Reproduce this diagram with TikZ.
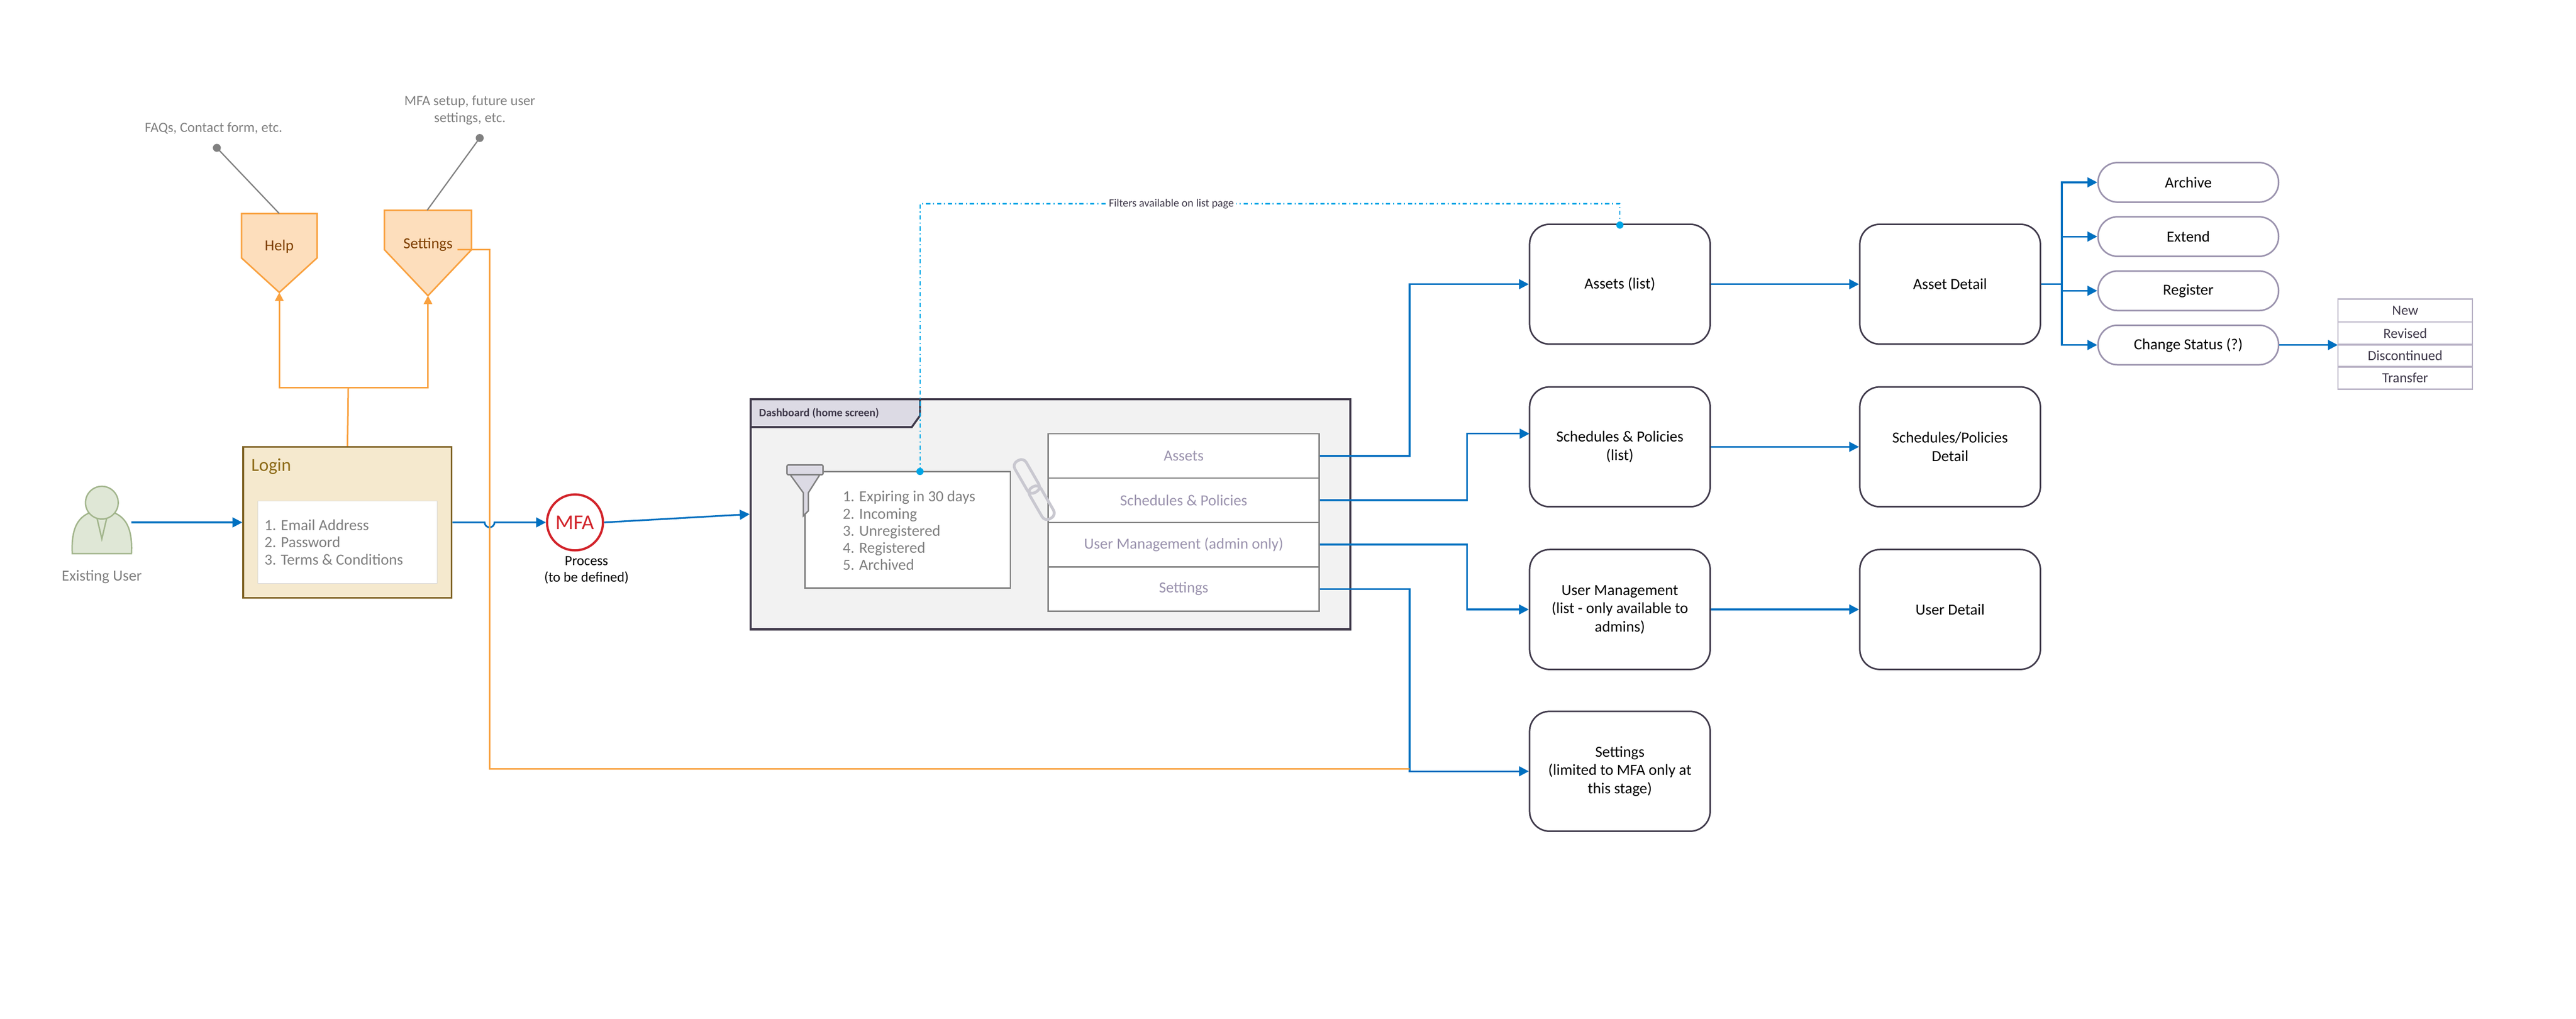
\documentclass[tikz,border=0pt]{standalone}
\usepackage{fontspec}
\setmainfont{Carlito}
\usetikzlibrary{arrows.meta,positioning,backgrounds}
\definecolor{flowblue}{HTML}{0070C0}
\definecolor{helporange}{HTML}{F9A13F}
\definecolor{helpfill}{HTML}{FDDEBC}
\definecolor{helptext}{HTML}{7F4000}
\definecolor{loginfill}{HTML}{F5E9CE}
\definecolor{loginline}{HTML}{7F6325}
\definecolor{logintext}{HTML}{8C6A16}
\definecolor{softgray}{HTML}{7F7F7F}
\definecolor{dashline}{HTML}{403A4B}
\definecolor{tabfill}{HTML}{DCDAE4}
\definecolor{menutext}{HTML}{9B93AE}
\definecolor{pillline}{HTML}{9B93AE}
\definecolor{mfared}{HTML}{D2232A}
\definecolor{userfill}{HTML}{DFE7D6}
\definecolor{userline}{HTML}{A2B58C}
\definecolor{filterblue}{HTML}{00A6E6}

\begin{document}
\begin{tikzpicture}[
        x=0.04113cm, y=-0.04113cm,
        background rectangle/.style={fill=white},
        show background rectangle,
        every node/.style={font=\fontsize{11}{13}\selectfont},
        flow/.style={draw=flowblue, line width=1.2pt, -{Triangle[length=7pt,width=7pt]}},
        orangeflow/.style={draw=helporange, line width=1.1pt},
        screen/.style={draw=dashline, line width=1.1pt, rounded corners=0.5cm,
            minimum width=4.52cm, minimum height=3cm, align=center},
        pill/.style={draw=pillline, line width=1.1pt, rounded corners=0.49cm,
            minimum width=4.52cm, minimum height=0.99cm},
        statuscell/.style={draw=pillline!70, line width=0.9pt, minimum width=3.37cm,
            minimum height=0.57cm, text=dashline, font=\fontsize{10}{12}\selectfont},
        menurow/.style={draw=gray, line width=1pt, fill=white, minimum width=6.79cm,
            minimum height=1.11cm, text=menutext},
        note/.style={text=softgray, align=center, font=\fontsize{10}{12}\selectfont}
    ]
    \useasboundingbox (0,0) rectangle (1568,620);

    % existing user
    \fill[userfill, draw=userline, line width=1pt]
        (44,337) .. controls (43,318) and (50,313) .. (58,311) -- (66,311)
        .. controls (74,313) and (81,318) .. (80,337) -- cycle;
    \draw[userline, line width=1pt] (58,311) -- (62,328) -- (66,311);
    \node[circle, fill=userfill, draw=userline, line width=1pt, minimum size=0.82cm, inner sep=0pt] (userhead) at (62,306) {};
    \coordinate (user) at (80,318);
    \node[text=softgray] (userlabel) at (62,351) {Existing User};

    % login
    \node[draw=loginline, fill=loginfill, line width=1.2pt, minimum width=5.22cm, minimum height=3.78cm] (login) at (211.5,318) {};
    \node[anchor=west, text=logintext, font=\fontsize{13}{15}\selectfont] (logintitle) at (150,284) {Login};
    \node[draw=black!15, fill=white, minimum width=4.48cm, minimum height=2.06cm, inner sep=0pt] (loginlist) at (211.5,330) {};
    \node[anchor=west, text=softgray, align=left, font=\fontsize{11}{12.3}\selectfont] at (158,330)
        {1. Email Address\\2. Password\\3. Terms \& Conditions};

    % help and settings
    \filldraw[fill=helpfill, draw=helporange, line width=1.1pt] (147,130) -- (193,130) -- (193,157) -- (170,178) -- (147,157) -- cycle;
    \node[text=helptext] (help) at (170,150) {Help};
    \coordinate (helptip) at (170,178);
    \filldraw[fill=helpfill, draw=helporange, line width=1.1pt] (234,128) -- (287,128) -- (287,152) -- (260.5,180) -- (234,152) -- cycle;
    \node[text=helptext] (settingsicon) at (260.5,149) {Settings};
    \coordinate (settingstip) at (260.5,180);

    % notes
    \node[note] (helpnote) at (130,78) {FAQs, Contact form, etc.};
    \node[note] (settingsnote) at (286,67) {MFA setup, future user\\settings, etc.};
    \fill[gray] (132,90) circle (0.1cm) coordinate (helpdot);
    \fill[gray] (292,84) circle (0.1cm) coordinate (settingsdot);
    \draw[gray, line width=0.9pt] (helpdot) -- (170,130);
    \draw[gray, line width=0.9pt] (settingsdot) -- (260,128);

    \draw[orangeflow] (login.north) -- (212,236) coordinate (split);
    \draw[orangeflow, -{Triangle[length=6pt,width=6pt]}] (split) -| (helptip);
    \draw[orangeflow, -{Triangle[length=6pt,width=6pt]}] (split) -| (settingstip);

    % mfa
    \node[circle, draw=mfared, line width=1.6pt, minimum size=1.4cm, inner sep=0pt, text=mfared,
        font=\fontsize{15}{15}\selectfont] (mfa) at (350,318) {MFA};
    \node[align=center, font=\fontsize{10}{11.5}\selectfont] (mfalabel) at (357,347) {Process\\(to be defined)};
    \draw[flow] (user) -- (login.west);
    \draw[flow] (login.east) -- (295,318) arc (180:0:3) -- (mfa.west);

    % dashboard
    \node[draw=dashline, fill=black!5, line width=1.6pt, minimum width=15.01cm, minimum height=5.76cm] (dash) at (639.5,313) {};
    \filldraw[fill=tabfill, draw=dashline, line width=1.4pt] (457,243) -- (560,243) -- (560,253) -- (555,260) -- (457,260) -- cycle;
    \node[anchor=west, font=\bfseries\fontsize{8}{9}\selectfont, text=dashline] (dashtab) at (459,251.5) {Dashboard (home screen)};
    \draw[flow] (mfa.east) -- (dash.west);

    \node[draw=gray, fill=white, line width=1pt, minimum width=5.14cm, minimum height=2.92cm] (filters) at (552.5,322.5) {};
    \node[anchor=west, text=softgray, align=left, font=\fontsize{11}{12.2}\selectfont] at (510,323)
        {1. Expiring in 30 days\\2. Incoming\\3. Unregistered\\4. Registered\\5. Archived};
    % funnel
    \filldraw[fill=tabfill, draw=gray, line width=1pt] (481,289) -- (499,289) -- (492,300) -- (492,311) -- (489,314) -- (489,300) -- cycle;
    \filldraw[fill=tabfill, draw=gray, line width=1pt, rounded corners=1pt] (479,283) rectangle (501,289);

    \node[menurow] (massets) at (720.5,277.5) {Assets};
    \node[menurow] (msched) at (720.5,304.5) {Schedules \& Policies};
    \node[menurow] (musers) at (720.5,331.5) {User Management (admin only)};
    \node[menurow] (msettings) at (720.5,358.5) {Settings};
    % chain
    \draw[tabfill!80!gray, line width=2pt, rounded corners=4pt, rotate around={-60:(625,290)}] (614,286) rectangle (636,294);
    \draw[tabfill!80!gray, line width=2pt, rounded corners=4pt, rotate around={-60:(634,306)}] (623,302) rectangle (645,310);

    % screens
    \node[screen] (assets) at (986,173) {Assets (list)};
    \node[screen] (sched) at (986,272) {Schedules \& Policies\\(list)};
    \node[screen] (users) at (986,371) {User Management\\(list - only available to\\admins)};
    \node[screen] (settings) at (986,469.5) {Settings\\(limited to MFA only at\\this stage)};
    \node[screen] (assetdetail) at (1187,173) {Asset Detail};
    \node[screen] (scheddetail) at (1187,272) {Schedules/Policies\\Detail};
    \node[screen] (userdetail) at (1187,371) {User Detail};

    \draw[flow] (massets.east) -- (858,277.5) |- (assets.west);
    \draw[flow] (msched.east) -- (893,304.5) |- (931,264);
    \draw[flow] (musers.east) -- (893,331.5) |- (users.west);
    \draw[flow] (msettings.east) -- (858,358.5) |- (settings.west);
    \draw[orangeflow] (settingsicon.east |- 0,152) -- (298,152) -- (298,468) -- (858,468);
    \draw[flow] (assets) -- (assetdetail);
    \draw[flow] (sched) -- (scheddetail);
    \draw[flow] (users) -- (userdetail);

    % filter note
    \fill[filterblue] (560,287) circle (0.09cm) coordinate (filterdot);
    \fill[filterblue] (986,137) circle (0.09cm) coordinate (assetdot);
    \draw[filterblue, line width=0.8pt, dash dot] (filterdot) -- (560,124) -- (986,124) -- (assetdot);
    \node[fill=white, inner sep=2pt, font=\fontsize{8}{9}\selectfont, text=dashline] (filternote) at (713,124) {Filters available on list page};

    % actions
    \node[pill] (archive) at (1332,111) {Archive};
    \node[pill] (extend) at (1332,144) {Extend};
    \node[pill] (register) at (1332,177) {Register};
    \node[pill] (status) at (1332,210) {Change Status (?)};
    \draw[flowblue, line width=1.2pt] (assetdetail.east) -- (1255,173) coordinate (fork);
    \foreach \pname in {archive,extend,register,status}
        \draw[flow] (fork) |- (\pname.west);

    \node[statuscell] (snew) at (1464,189) {New};
    \node[statuscell] (srevised) at (1464,203) {Revised};
    \node[statuscell] (sdisc) at (1464,216.5) {Discontinued};
    \node[statuscell] (stransfer) at (1464,230) {Transfer};
    \draw[flow] (status.east) -- (1423,210);
\end{tikzpicture}
\end{document}
